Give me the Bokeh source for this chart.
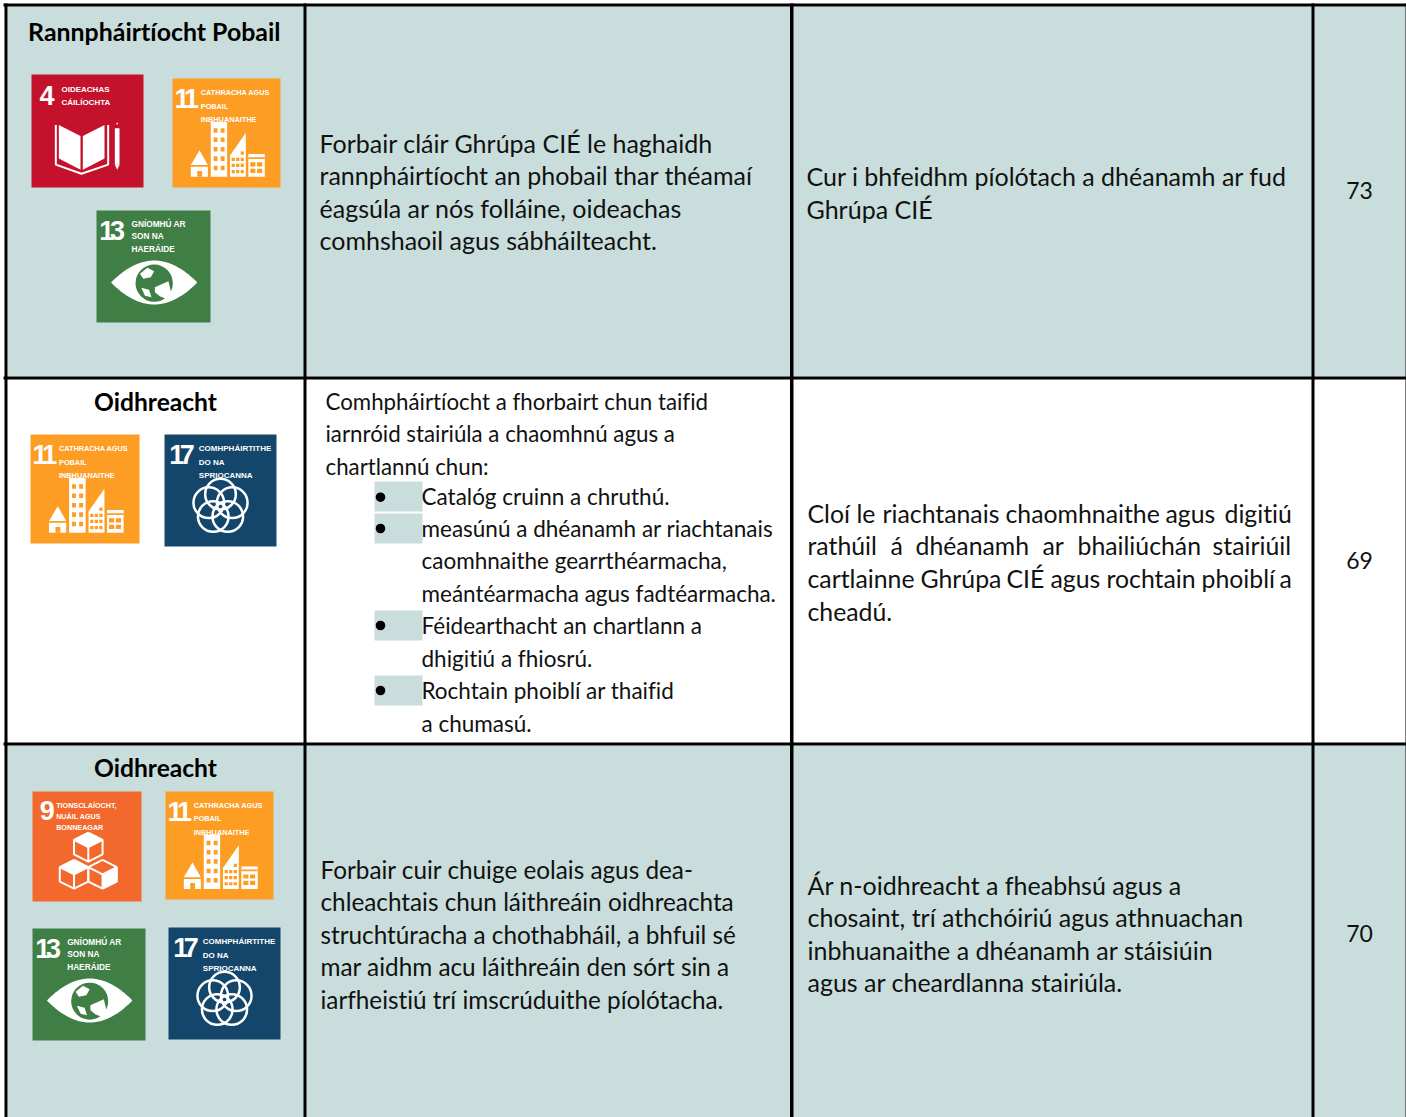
import numpy as np
from bokeh.plotting import figure
from bokeh.models import Range1d
from bokeh.core.properties import value
from bokeh.embed import file_html
from bokeh.resources import INLINE

W, H = 1406, 1117
SHADE = "#C9DEDC"
BODY_FONT = "Lato"
SIZE_A = "25px"
SIZE_B = "22.5px"
SIZE_C = "24.3px"
NARROW = "Liberation Sans"
TEXT_SHIFT = 8.7

# ---- table content ----
title_1 = "Rannpháirtíocht Pobail"
title_2 = "Oidhreacht"
title_3 = "Oidhreacht"
scores = ["73", "69", "70"]
row1_col2 = ["Forbair cláir Ghrúpa CIÉ le haghaidh",
             "rannpháirtíocht an phobail thar théamaí",
             "éagsúla ar nós folláine, oideachas",
             "comhshaoil agus sábháilteacht."]
row1_col3 = ["Cur i bhfeidhm píolótach a dhéanamh ar fud", "Ghrúpa CIÉ"]
row2_col2 = ["Comhpháirtíocht a fhorbairt chun taifid",
             "iarnróid stairiúla a chaomhnú agus a",
             "chartlannú chun:"]
row2_bullets = ["Catalóg cruinn a chruthú.",
                "measúnú a dhéanamh ar riachtanais",
                "caomhnaithe gearrthéarmacha,",
                "meántéarmacha agus fadtéarmacha.",
                "Féidearthacht an chartlann a",
                "dhigitiú a fhiosrú.",
                "Rochtain phoiblí ar thaifid",
                "a chumasú."]
row2_col3_words = [["Cloí", "le", "riachtanais", "chaomhnaithe", "agus", "digitiú"],
                   ["rathúil", "á", "dhéanamh", "ar", "bhailiúchán", "stairiúil"],
                   ["cartlainne", "Ghrúpa", "CIÉ", "agus", "rochtain", "phoiblí", "a"],
                   ["cheadú."]]
row2_col3_word_x = [[807, 856, 882, 1005, 1165, 1224],
                    [807, 890, 915, 1042, 1077, 1212],
                    [807, 920, 1006, 1050, 1106, 1201, 1279],
                    [807]]
row2_col3_y = [522, 554, 587, 620]
row3_col2 = ["Forbair cuir chuige eolais agus dea-",
             "chleachtais chun láithreáin oidhreachta",
             "struchtúracha a chothabháil, a bhfuil sé",
             "mar aidhm acu láithreáin den sórt sin a",
             "iarfheistiú trí imscrúduithe píolótacha."]
row3_col3 = ["Ár n-oidhreacht a fheabhsú agus a",
             "chosaint, trí athchóiriú agus athnuachan",
             "inbhuanaithe a dhéanamh ar stáisiúin",
             "agus ar cheardlanna stairiúla."]

# ---- goal tiles ----
goal_4_label = ["OIDEACHAS", "CÁILÍOCHTA"]
goal_9_label = ["TIONSCLAÍOCHT,", "NUÁIL AGUS", "BONNEAGAR"]
goal_11_label = ["CATHRACHA AGUS", "POBAIL", "INBHUANAITHE"]
goal_13_label = ["GNÍOMHÚ AR", "SON NA", "HAERÁIDE"]
goal_17_label = ["COMHPHÁIRTITHE", "DO NA", "SPRIOCANNA"]
goal_colors = {4: "#C4122D", 9: "#F3682C", 11: "#FD9D24", 13: "#3F7E44", 17: "#14466B"}

p = figure(width=W, height=H, output_backend="svg", toolbar_location=None,
           x_range=Range1d(0, W), y_range=Range1d(H, 0), x_axis_type=None, y_axis_type=None,
           min_border=0, outline_line_color=None, background_fill_color="white",
           border_fill_color="white", styles={"font-variant-ligatures": "none"})
p.grid.visible = False


def box(x0, x1, y0, y1, color):
    p.quad(left=x0, right=x1, top=y0, bottom=y1, fill_color=color, line_color=None)


def lines(strs, x, ys, font=BODY_FONT, size=SIZE_A, style="normal", align="left", color="#111111"):
    p.text(x=[x] * len(strs), y=[v - TEXT_SHIFT for v in ys], text=strs, text_font=value(font),
           text_font_size=value(size), text_font_style=style, text_align=align,
           text_baseline="alphabetic", text_color=color)


# shaded rows
box(7, 1405, 6, 376, SHADE)
box(7, 1405, 745, H, SHADE)
box(374, 422, 481, 511, SHADE)
box(374, 422, 513, 543, SHADE)
box(374, 422, 610, 640, SHADE)
box(374, 422, 675, 705, SHADE)

# rules
box(3, 1406, 3, 6, "black")
box(3, 1406, 376, 379, "black")
box(3, 1406, 742, 745, "black")
for a, b in [(4, 7), (303, 306), (789.5, 793), (1311, 1314), (1405, 1406)]:
    box(a, b, 3, H, "black")

# bullets
p.circle(x=[380] * 4, y=[496.7, 528, 625, 690], radius=4.8, fill_color="black", line_color=None)

# texts
lines([title_1], 154, [39], style="bold", align="center", color="black", size="24.9px")
lines([title_2], 155, [410], style="bold", align="center", color="black", size="24.6px")
lines([title_3], 155, [776], style="bold", align="center", color="black", size="24.6px")
lines(row1_col2, 319, [151, 183, 216, 248])
lines(row1_col3, 806, [184, 217])
lines(row2_col2, 325, [410, 442, 475], size="22.3px")
lines(row2_bullets, 421, [505, 537, 569, 602, 634, 667, 699, 732], size=SIZE_B)
for words, xs, y in zip(row2_col3_words, row2_col3_word_x, row2_col3_y):
    p.text(x=xs, y=[y - TEXT_SHIFT] * len(xs), text=words, text_font=value(BODY_FONT),
           text_font_size=value("24.8px"), text_baseline="alphabetic", text_color="#111111")
lines(row3_col2, 320, [878, 910, 943, 975, 1008], size=SIZE_C)
lines(row3_col3, 807, [893, 925, 958, 990])
lines([scores[0]], 1359, [199], align="center", size="23px")
lines([scores[1]], 1359, [569], align="center", size="23px")
lines([scores[2]], 1359, [942], align="center", size="23px")


def tile(goal, x0, x1, y0, y1):
    """Draw one goal tile; pictogram shapes are given in a 336-unit tile space."""
    sx, sy = (x1 - x0) / 336.0, (y1 - y0) / 336.0
    X = lambda a: x0 + np.asarray(a, float) * sx
    Y = lambda a: y0 + np.asarray(a, float) * sy
    box(x0, x1, y0, y1, goal_colors[goal])
    col = goal_colors[goal]
    w = "white"

    def poly(xs, ys, c=w):
        p.patch(X(xs), Y(ys), fill_color=c, line_color=None)

    def rc(a, b, c_, d, c=w):
        p.quad(left=X(a), right=X(b), top=Y(c_), bottom=Y(d), fill_color=c, line_color=None)

    def ln(xs, ys, width=1.5):
        p.line(X(xs), Y(ys), line_color=w, line_width=width)

    def digits(chars, xs, base, size="27px"):
        for ch, dx in zip(chars, xs):
            p.text(x=[X(dx)], y=[Y(base) - 12], text=[ch], text_font=value(NARROW), text_font_size=value(size),
                   text_font_style="bold", text_color=w, text_baseline="alphabetic")

    def label(strs, lx, bases, size):
        for s, b in zip(strs, bases):
            p.text(x=[X(lx)], y=[Y(b) - 3.5], text=[s], text_font=value(NARROW), text_font_size=value(size),
                   text_font_style="bold", text_color=w, text_baseline="alphabetic")

    if goal == 4:
        digits("4", [24], 99)
        label(goal_4_label, 90, [54, 93], "8px")
        poly([82, 147, 147, 82], [150, 183, 283, 250])
        poly([154, 219, 219, 154], [183, 150, 250, 283])
        ln([73, 73, 150, 230, 230], [150, 268, 295, 268, 150], 2)
        rc(250, 264, 160, 268)
        poly([250, 264, 257], [268, 268, 283])
        p.circle(x=[X(257)], y=[Y(146)], radius=2.5 * sx, fill_color=w, line_color=None)
    elif goal == 9:
        digits("9", [22], 96)
        label(goal_9_label, 73, [53, 87, 121], "7.2px")
        s = 44
        for cx, cy, solid in [(172, 170, True), (128, 253, True), (216, 253, False)]:
            hx = [cx, cx + s, cx + s, cx, cx - s, cx - s, cx]
            hy = [cy - s, cy - s / 2, cy + s / 2, cy + s, cy + s / 2, cy - s / 2, cy - s]
            ln(hx, hy, 2)
            ln([cx - s, cx, cx + s], [cy - s / 2, cy, cy - s / 2], 2)
            ln([cx, cx], [cy, cy + s], 2)
            if solid:
                poly([cx, cx + s, cx, cx - s], [cy - s, cy - s / 2, cy, cy - s / 2])
            else:
                poly([cx, cx + s, cx + s, cx], [cy, cy - s / 2, cy + s / 2, cy + s])
    elif goal == 11:
        digits("11", [6, 36], 99)
        label(goal_11_label, 88, [55, 96, 137], "7.3px")
        poly([57, 84, 110], [267, 221, 267])
        rc(57, 110, 272, 303)
        rc(77, 92, 285, 303, col)
        rc(119, 170, 134, 303)
        for r in range(5):
            for c_ in (128, 150):
                rc(c_, c_ + 12, 153 + r * 29, 167 + r * 29, col)
        poly([179, 228, 228, 179], [237, 167, 303, 303])
        for r in range(4):
            for c_ in range(3):
                if r > 0 or c_ > 1:
                    rc(184 + c_ * 14, 194 + c_ * 14, 225 + r * 19, 235 + r * 19, col)
        rc(236, 287, 233, 303)
        for r in range(2):
            for c_ in range(2):
                rc(242 + c_ * 21, 258 + c_ * 21, 258 + r * 20, 271 + r * 20, col)
        rc(236, 287, 243, 248, col)
    elif goal == 13:
        digits("13", [8, 40], 95)
        label(goal_13_label, 103, [51, 88, 125], "8.3px")
    elif goal == 17:
        digits("17", [14, 46], 95)
        label(goal_17_label, 103, [53, 95, 133], "8px")

    if goal == 13:
        t = np.linspace(-1, 1, 41)
        top = 216 - 66 * (1 - t ** 2)
        bot = 216 + 66 * (1 - t ** 2)
        ex = 170 + 127 * t
        poly(np.r_[ex, ex[::-1]], np.r_[top, bot[::-1]])
        p.circle(x=[X(170)], y=[Y(218)], radius=55 * sx, fill_color=col, line_color=None)
        poly([128, 150, 170, 160, 138], [190, 172, 182, 200, 205])
        poly([172, 212, 220, 205, 188, 172], [230, 212, 245, 265, 258, 245])
        poly([132, 155, 162, 143], [232, 238, 260, 256])
    if goal == 17:
        a = np.deg2rad(-90 + np.arange(5) * 72)
        p.circle(x=X(168 + 37 * np.cos(a)), y=Y(216 + 37 * np.sin(a)), radius=46 * sx,
                 fill_color=None, line_color=w, line_width=2.5)


tile(4, 31, 143, 74, 187)
tile(11, 172, 280, 78, 187)
tile(13, 96, 210, 210, 322)
tile(11, 30, 139, 434, 543)
tile(17, 164, 276, 434, 546)
tile(9, 32, 141, 791, 901)
tile(11, 165, 273, 791, 899)
tile(13, 32, 145, 928, 1040)
tile(17, 168, 280, 927, 1039)

open("out.html", "w").write(file_html(p, INLINE))
